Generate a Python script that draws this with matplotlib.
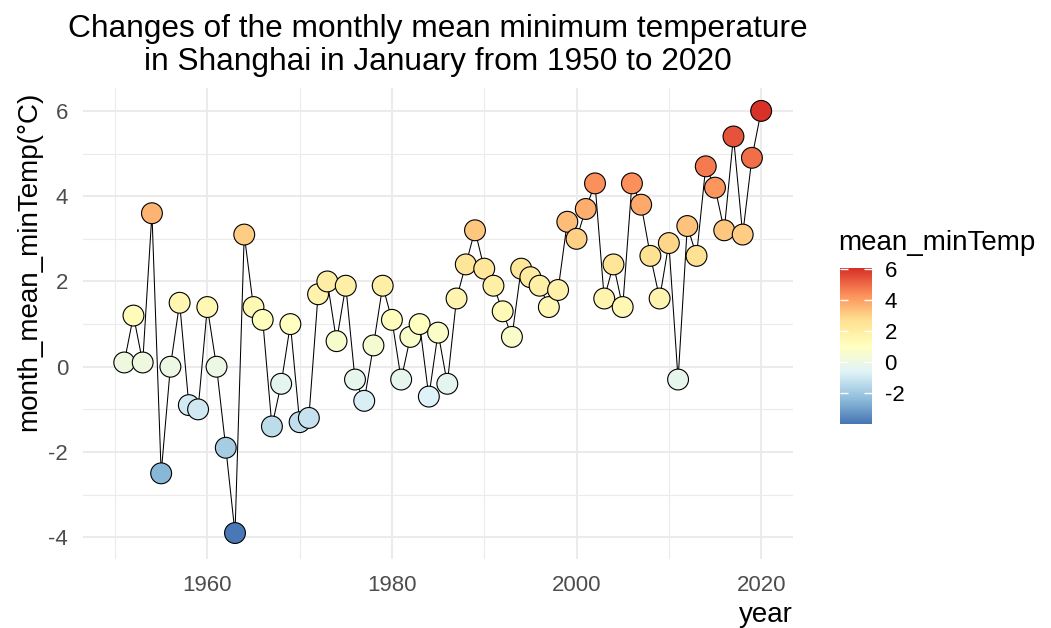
import matplotlib
matplotlib.use('Agg')
import matplotlib.pyplot as plt
import numpy as np
from matplotlib.colors import LinearSegmentedColormap, Normalize
from matplotlib.ticker import MultipleLocator, FixedLocator

# ---- data ----
years = list(range(1951, 2021))
mean_minTemp = [0.1, 1.2, 0.1, 3.6, -2.5, 0.0, 1.5, -0.9, -1.0, 1.4,    # 1951-1960
                0.0, -1.9, -3.9, 3.1, 1.4, 1.1, -1.4, -0.4, 1.0, -1.3,  # 1961-1970
                -1.2, 1.7, 2.0, 0.6, 1.9, -0.3, -0.8, 0.5, 1.9, 1.1,    # 1971-1980
                -0.3, 0.7, 1.0, -0.7, 0.8, -0.4, 1.6, 2.4, 3.2, 2.3,    # 1981-1990
                1.9, 1.3, 0.7, 2.3, 2.1, 1.9, 1.4, 1.8, 3.4, 3.0,       # 1991-2000
                3.7, 4.3, 1.6, 2.4, 1.4, 4.3, 3.8, 2.6, 1.6, 2.9,       # 2001-2010
                -0.3, 3.3, 2.6, 4.7, 4.2, 3.2, 5.4, 3.1, 4.9, 6.0]      # 2011-2020
x_ticks = [1960, 1980, 2000, 2020]
y_ticks = [-4, -2, 0, 2, 4, 6]
cbar_ticks = [-2, 0, 2, 4, 6]

title_lines = ["Changes of the monthly mean minimum temperature",
               "in Shanghai in January from 1950 to 2020"]

plt.rcParams['font.family'] = ['Liberation Sans', 'DejaVu Sans']
plt.rcParams['axes.unicode_minus'] = False

W, H = 1051, 628
fig = plt.figure(figsize=(W / 100, H / 100), dpi=100)

# panel in pixel coords
pl, pr, pt, pb = 82.7, 793.0, 88.3, 559.3
ax = fig.add_axes([pl / W, 1 - pb / H, (pr - pl) / W, (pb - pt) / H])

# RdYlBu 7-class, reversed (blue low -> red high)
brewer = ['#4575B4', '#91BFDB', '#E0F3F8', '#FFFFBF', '#FEE090', '#FC8D59', '#D73027']
cmap = LinearSegmentedColormap.from_list('rdylbu7_r', brewer, N=256)
norm = Normalize(vmin=-4.0, vmax=6.05)

ax.plot(years, mean_minTemp, color='black', lw=0.75, zorder=2)
sc = ax.scatter(years, mean_minTemp, c=mean_minTemp, cmap=cmap, norm=norm,
                s=225, edgecolors='black', linewidths=0.8, zorder=3)

ax.set_xlim(1946.5, 2023.45)
ax.set_ylim(-4.516, 6.53)

ax.xaxis.set_major_locator(FixedLocator(x_ticks))
ax.xaxis.set_minor_locator(MultipleLocator(10))
ax.yaxis.set_major_locator(FixedLocator(y_ticks))
ax.yaxis.set_minor_locator(FixedLocator([-3, -1, 1, 3, 5]))

ax.grid(which='major', color='#EBEBEB', lw=1.5, zorder=0)
ax.grid(which='minor', color='#EBEBEB', lw=0.8, zorder=0)
ax.set_axisbelow(True)
for s in ax.spines.values():
    s.set_visible(False)
ax.tick_params(which='both', length=0)
ax.tick_params(axis='x', labelsize=16, labelcolor='#4D4D4D', pad=11)
ax.tick_params(axis='y', labelsize=16, labelcolor='#4D4D4D', pad=10.5)

# titles
cx = (pl + pr) / 2 / W
fig.text(cx, 1 - 37 / H, title_lines[0], ha='center', va='baseline', fontsize=22.8)
fig.text(cx, 1 - 70 / H, title_lines[1], ha='center', va='baseline', fontsize=22.8)
fig.text(29 / W, 1 - 261 / H, 'month_mean_minTemp(°C)', rotation=90,
         ha='center', va='center', fontsize=20)
fig.text(pr / W, 1 - 615 / H, 'year', ha='right', va='center', fontsize=20)

# colorbar legend
cl, cr, ct, cb = 840, 872, 268, 424
cax = fig.add_axes([cl / W, 1 - cb / H, (cr - cl) / W, (cb - ct) / H])
cbar = fig.colorbar(sc, cax=cax, ticks=cbar_ticks)
cbar.outline.set_visible(False)
cax.tick_params(left=True, right=True, direction='in', color='white',
                length=6, width=1, labelsize=16, labelcolor='black', pad=9)
fig.text(838 / W, 1 - 243 / H, 'mean_minTemp', ha='left', va='center', fontsize=20)

fig.savefig('out.png', dpi=100)
